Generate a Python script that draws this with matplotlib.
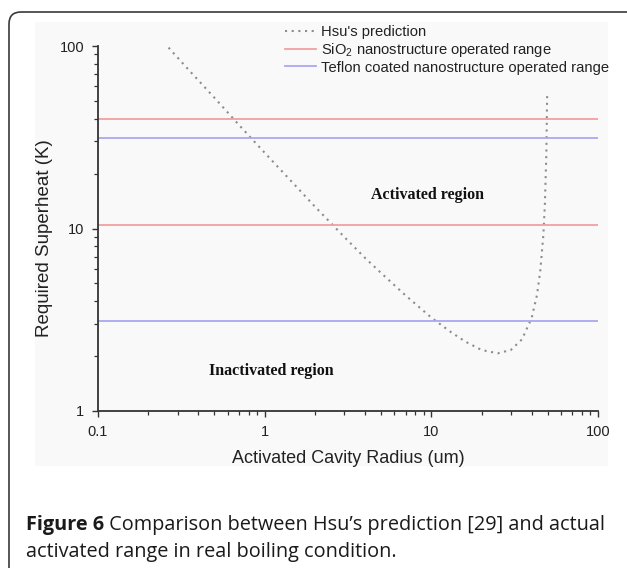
import matplotlib
matplotlib.use("Agg")
import matplotlib.pyplot as plt
from matplotlib.patches import Rectangle, FancyBboxPatch
from matplotlib.transforms import IdentityTransform
from matplotlib.ticker import FixedLocator, FixedFormatter, LogLocator, NullFormatter

# ---- data ----
hsu_radius = [0.265, 0.35, 0.5, 0.7, 1.0, 1.5, 2.0, 3.0, 4.0, 5.0, 7.0, 10.0, 13.0,
              16.0, 20.0, 25.0, 30.0, 35.0, 40.0, 43.0, 45.0, 47.0, 48.0, 49.0, 49.5, 49.6]
hsu_superheat = [98, 74, 52, 37, 26, 17.5, 13.2, 9.0, 6.9, 5.7, 4.3, 3.25, 2.72,
                 2.40, 2.16, 2.07, 2.16, 2.47, 3.24, 4.3, 5.8, 9.2, 13.5, 26, 52, 56]
sio2_range = [10.4, 40.0]
teflon_range = [3.1, 31.5]
x_limits = [0.1, 100]
y_limits = [1, 100]
x_ticks = [0.1, 1, 10, 100]
x_tick_labels = ["0.1", "1", "10", "100"]
y_ticks = [1, 10, 100]
y_tick_labels = ["1", "10", "100"]
legend_labels = ["Hsu's prediction",
                 r"SiO$_\mathregular{2}$ nanostructure operated range",
                 "Teflon coated nanostructure operated range"]
caption_bold = "Figure 6"
caption_rest = " Comparison between Hsu\u2019s prediction [29] and actual"
caption_line2 = "activated range in real boiling condition."

W, H = 627, 568
fig = plt.figure(figsize=(W / 100, H / 100), dpi=100)
fig.patch.set_facecolor("white")

# light background of the embedded chart image
fig.patches.append(Rectangle((35 / W, 1 - 466 / H), (608 - 35) / W, (466 - 22) / H,
                             transform=fig.transFigure, facecolor="#f9f9f9",
                             edgecolor="none", zorder=-5))
# rounded frame (right and bottom sides fall outside the picture)
fig.patches.append(FancyBboxPatch((9, -60), 650 - 9, (H - 12) + 60,
                                  boxstyle="round,pad=0,rounding_size=12",
                                  transform=IdentityTransform(), facecolor="none",
                                  edgecolor="#3a3a3a", linewidth=1.2, zorder=5,
                                  clip_on=False))

ax = fig.add_axes([98 / W, 1 - 411 / H, 500 / W, 365 / H])
ax.set_facecolor("none")
ax.set_xscale("log")
ax.set_yscale("log")
ax.set_xlim(*x_limits)
ax.set_ylim(*y_limits)

hsu_line, = ax.plot(hsu_radius, hsu_superheat, color="#8c8c8c", lw=1.5,
                    linestyle=(0, (1, 2.2)), label=legend_labels[0])
red_line = None
for v in sio2_range:
    red_line = ax.axhline(v, color="#f2a0a0", lw=1.3, label=legend_labels[1])
blue_line = None
for v in teflon_range:
    blue_line = ax.axhline(v, color="#a8a8f2", lw=1.3, label=legend_labels[2])

for s in ["top", "right"]:
    ax.spines[s].set_visible(False)
for s in ["left", "bottom"]:
    ax.spines[s].set_color("#333333")
    ax.spines[s].set_linewidth(1.3)

ax.xaxis.set_major_locator(FixedLocator(x_ticks))
ax.xaxis.set_major_formatter(FixedFormatter(x_tick_labels))
ax.yaxis.set_major_locator(FixedLocator(y_ticks))
ax.yaxis.set_major_formatter(FixedFormatter(y_tick_labels))
ax.xaxis.set_minor_locator(LogLocator(base=10, subs=range(2, 10)))
ax.yaxis.set_minor_locator(LogLocator(base=10, subs=range(2, 10)))
ax.xaxis.set_minor_formatter(NullFormatter())
ax.yaxis.set_minor_formatter(NullFormatter())
ax.tick_params(which="major", direction="out", length=4.5, width=1.0, color="#333333",
               labelsize=10.5, pad=5.5, labelcolor="#222222")
ax.tick_params(which="minor", direction="out", length=2.6, width=0.9, color="#333333")
for lab in ax.get_xticklabels() + ax.get_yticklabels():
    lab.set_fontfamily("Liberation Sans")

ax.set_xlabel("Activated Cavity Radius (um)", fontsize=13, family="Liberation Sans",
              color="#222222", labelpad=8)
ax.set_ylabel("Required Superheat (K)", fontsize=13.5, family="Liberation Sans",
              color="#222222")
ax.yaxis.set_label_coords((53 - 98) / 500, (411 - 238) / 365)

ax.text(9.5, 15.2, "Activated region", family="Liberation Serif", weight="bold",
        fontsize=11.5, ha="center", va="center", color="#111111")
ax.text(1.09, 1.65, "Inactivated region", family="Liberation Serif", weight="bold",
        fontsize=11.5, ha="center", va="center", color="#111111")

leg = fig.legend([hsu_line, red_line, blue_line], legend_labels,
                 loc="upper left", bbox_to_anchor=(285 / W, 1 - 25 / H),
                 frameon=False, handlelength=2.1, handletextpad=0.34,
                 labelspacing=0.12, borderpad=0, borderaxespad=0,
                 prop={"family": "Liberation Sans", "size": 10.6})
for t in leg.get_texts():
    t.set_color("#222222")

cap_font = "Open Sans"
cap_size = 14.3
t1 = fig.text(26 / W, 1 - 525 / H, caption_bold, fontsize=cap_size, family=cap_font,
              weight="bold", va="center", ha="left", color="#1a1a1a")
fig.canvas.draw()
bb = t1.get_window_extent()
fig.text(bb.x1 / W, 1 - 525 / H, caption_rest, fontsize=cap_size, family=cap_font,
         va="center", ha="left", color="#1a1a1a")
fig.text(26 / W, 1 - 552 / H, caption_line2, fontsize=cap_size, family=cap_font,
         va="center", ha="left", color="#1a1a1a")

fig.savefig("out.png", dpi=100)
